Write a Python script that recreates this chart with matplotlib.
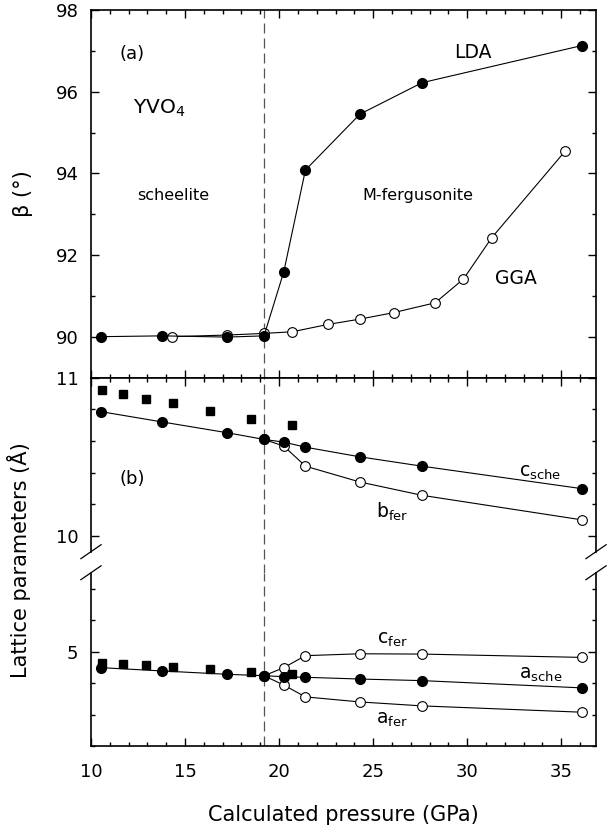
import numpy as np
import matplotlib
matplotlib.use("Agg")
import matplotlib.pyplot as plt
from matplotlib.ticker import MultipleLocator

plt.rcParams['font.family'] = ['DejaVu Sans']
plt.rcParams['mathtext.fontset'] = 'dejavusans'

# (a) monoclinic angle beta
p_lda = [10.55, 13.8, 17.25, 19.2, 20.25, 21.4, 24.3, 27.6, 36.1]
beta_lda = [90.0, 90.02, 89.99, 90.02, 91.59, 94.08, 95.45, 96.22, 97.13]
p_gga = [14.3, 17.25, 19.2, 20.7, 22.6, 24.3, 26.1, 28.3, 29.8, 31.3, 35.2]
beta_gga = [90.0, 90.04, 90.08, 90.12, 90.3, 90.43, 90.59, 90.83, 91.41, 92.42, 94.54]

# (b) lattice parameters
p_sche = [10.55, 13.8, 17.25, 19.2, 20.25, 21.4, 24.3, 27.6, 36.1]
c_sche = [10.784, 10.719, 10.651, 10.609, 10.592, 10.560, 10.499, 10.440, 10.298]
a_sche = [4.899, 4.878, 4.857, 4.848, 4.842, 4.838, 4.827, 4.817, 4.771]
p_fer = [19.2, 20.25, 21.4, 24.3, 27.6, 36.1]
b_fer = [10.609, 10.567, 10.440, 10.340, 10.256, 10.101]
c_fer = [4.848, 4.899, 4.975, 4.987, 4.985, 4.964]
a_fer = [4.848, 4.789, 4.714, 4.682, 4.657, 4.617]
p_exp = [10.6, 11.7, 12.9, 14.35, 16.35, 18.5, 20.7]
c_exp = [10.92, 10.894, 10.867, 10.837, 10.789, 10.74, 10.70]
a_exp = [4.926, 4.922, 4.914, 4.905, 4.89, 4.872, 4.859]

p_trans = 19.2

fig = plt.figure(figsize=(6.09, 8.35), dpi=100)
L, R = 0.1494, 0.9787
ax_a = fig.add_axes([L, 0.5479, R - L, 0.988 - 0.5479])
ax_u = fig.add_axes([L, 0.3393, R - L, 0.5479 - 0.3393])
ax_l = fig.add_axes([L, 0.106, R - L, 0.3141 - 0.106])

filled = dict(marker='o', ms=7, mfc='black', mec='black', color='black', lw=0.8, zorder=4)
opened = dict(marker='o', ms=7, mfc='white', mec='black', mew=0.8, color='black', lw=0.8, zorder=3)
square = dict(marker='s', ms=6, color='black', ls='none', zorder=5)
dash = dict(color='#555555', lw=0.9, ls=(0, (8, 4)), zorder=1)

for ax in (ax_a, ax_u, ax_l):
    ax.set_xlim(10, 36.85)
    ax.xaxis.set_major_locator(MultipleLocator(5))
    ax.xaxis.set_minor_locator(MultipleLocator(1))
    ax.tick_params(which='both', direction='in', top=True, right=True, width=1,
                   labelsize=13, pad=9)
    ax.tick_params(which='major', length=5.5)
    ax.tick_params(which='minor', length=3)
    for s in ax.spines.values():
        s.set_linewidth(1.2)

# panel (a)
ax_a.plot(p_gga, beta_gga, **opened)
ax_a.plot(p_lda, beta_lda, **filled)
ax_a.set_ylim(89, 98)
ax_a.yaxis.set_major_locator(MultipleLocator(2))
ax_a.yaxis.set_minor_locator(MultipleLocator(1))
ax_a.tick_params(labelbottom=False)
ax_a.axvline(p_trans, **dash)
ax_a.set_ylabel('β (°)', fontsize=15, labelpad=16)
ax_a.text(12.2, 96.93, '(a)', fontsize=13, ha='center', va='center')
ax_a.text(13.6, 95.6, 'YVO$_4$', fontsize=14.5, ha='center', va='center')
ax_a.text(14.4, 93.45, 'scheelite', fontsize=11.5, ha='center', va='center')
ax_a.text(27.4, 93.45, 'M-fergusonite', fontsize=11.5, ha='center', va='center')
ax_a.text(30.3, 96.95, 'LDA', fontsize=13.5, ha='center', va='center')
ax_a.text(32.6, 91.42, 'GGA', fontsize=13.5, ha='center', va='center')

# panel (b), upper part
ax_u.plot(p_exp, c_exp, **square)
ax_u.plot(p_fer, b_fer, **opened)
ax_u.plot(p_sche, c_sche, **filled)
ax_u.set_ylim(9.9, 11)
ax_u.yaxis.set_major_locator(MultipleLocator(1))
ax_u.yaxis.set_minor_locator(MultipleLocator(0.2))
ax_u.spines['bottom'].set_visible(False)
ax_u.tick_params(which='both', bottom=False, labelbottom=False)
ax_u.axvline(p_trans, ymin=-0.13, ymax=1, clip_on=False, **dash)
ax_u.text(12.2, 10.36, '(b)', fontsize=13, ha='center', va='center')
ax_u.text(33.9, 10.40, r'c$_{\mathrm{sche}}$', fontsize=13.5, ha='center', va='center')
ax_u.text(26.0, 10.15, r'b$_{\mathrm{fer}}$', fontsize=13.5, ha='center', va='center')

# panel (b), lower part
ax_l.plot(p_exp, a_exp, **square)
ax_l.plot(p_fer, c_fer, **opened)
ax_l.plot(p_fer, a_fer, **opened)
ax_l.plot(p_sche, a_sche, **filled)
ax_l.set_ylim(4.4, 5.5)
ax_l.yaxis.set_major_locator(MultipleLocator(1))
ax_l.yaxis.set_minor_locator(MultipleLocator(0.2))
ax_l.spines['top'].set_visible(False)
ax_l.tick_params(which='both', top=False)
ax_l.tick_params(axis='x', pad=12)
ax_l.axvline(p_trans, **dash)
ax_l.text(26.0, 5.075, r'c$_{\mathrm{fer}}$', fontsize=13.5, ha='center', va='center')
ax_l.text(33.9, 4.855, r'a$_{\mathrm{sche}}$', fontsize=13.5, ha='center', va='center')
ax_l.text(26.0, 4.57, r'a$_{\mathrm{fer}}$', fontsize=13.5, ha='center', va='center')
ax_l.set_xlabel('Calculated pressure (GPa)', fontsize=15, labelpad=17)

# break marks
d = 0.04
kw = dict(color='black', lw=0.9, clip_on=False)
for x0 in (0, 1):
    ax_u.plot([x0 - 0.02, x0 + 0.02], [-d, d], transform=ax_u.transAxes, **kw)
    ax_l.plot([x0 - 0.02, x0 + 0.02], [1 - d, 1 + d], transform=ax_l.transAxes, **kw)

fig.text(0.032, 0.329, 'Lattice parameters (Å)', rotation=90, fontsize=15,
         ha='center', va='center')

fig.savefig('out.png', dpi=100)
